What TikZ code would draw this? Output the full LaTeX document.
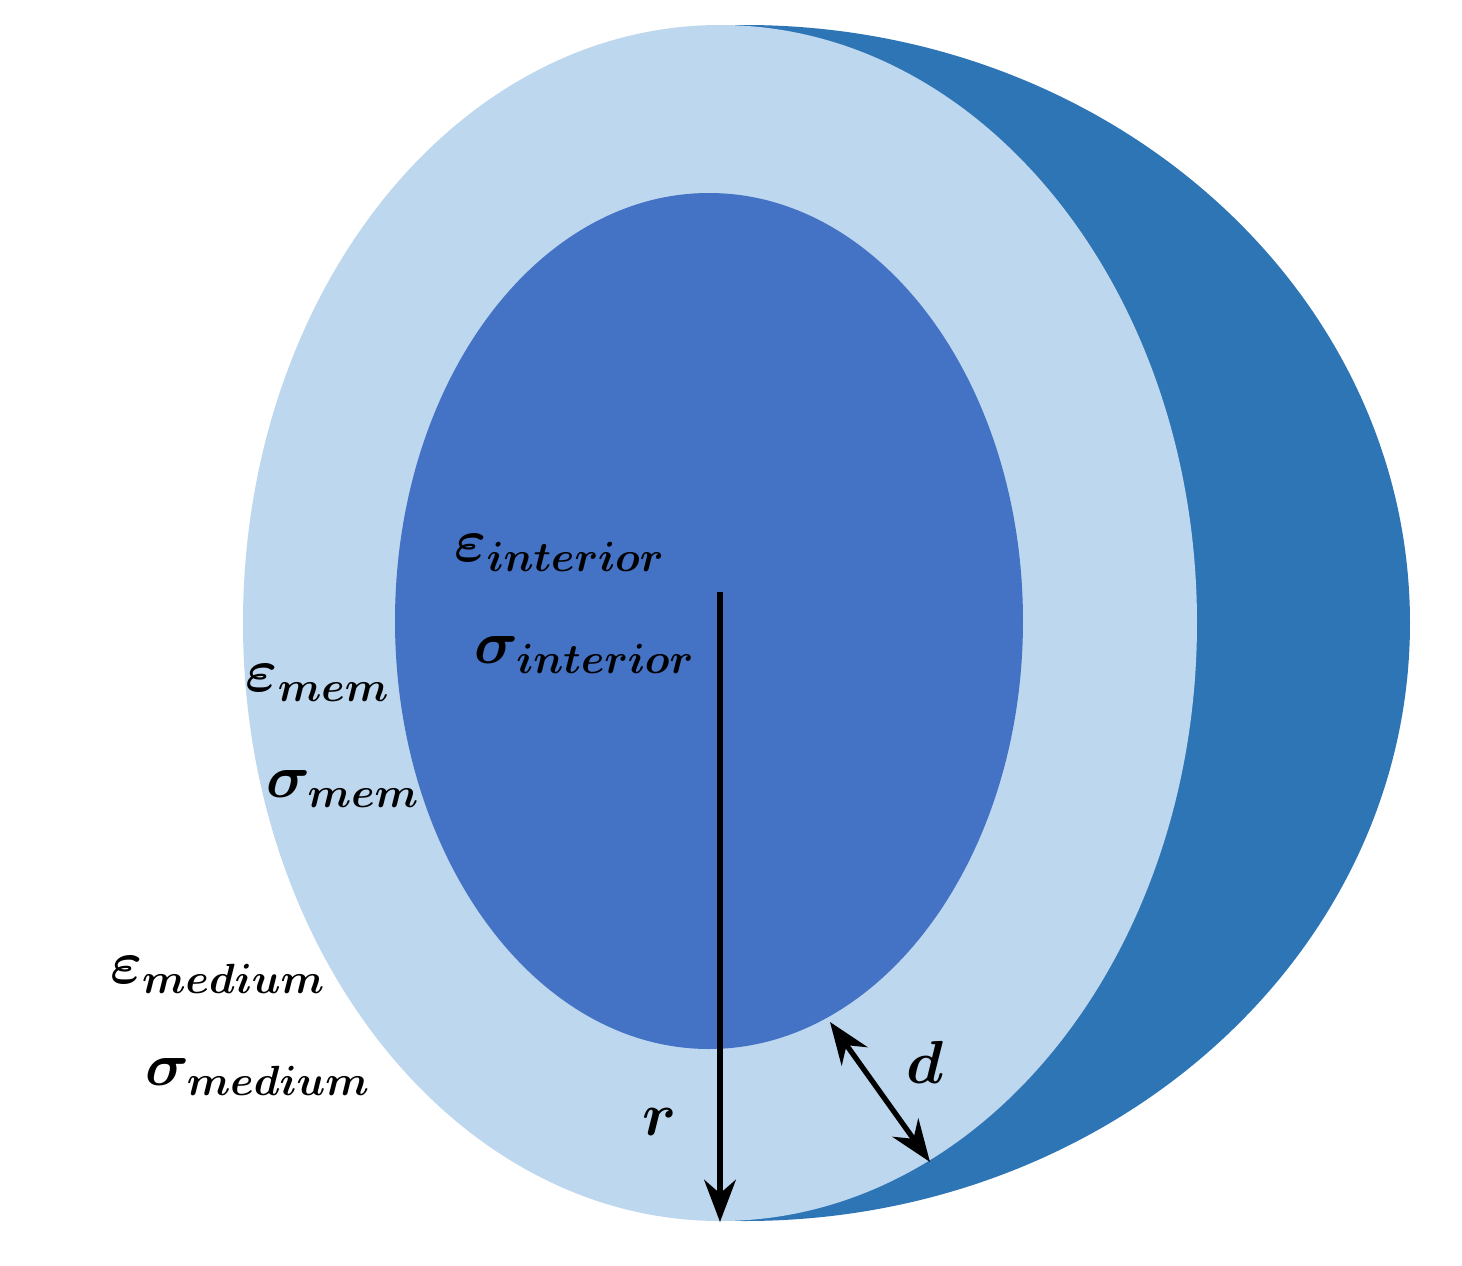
\documentclass[tikz,border=0pt]{standalone}
\usepackage{amsmath,bm}
\usetikzlibrary{arrows.meta}
\definecolor{shell}{HTML}{BDD7EE}
\definecolor{core}{HTML}{4472C4}
\definecolor{back}{HTML}{2E75B6}
\begin{document}
\begin{tikzpicture}[x=0.01cm,y=-0.01cm]
\tikzset{lbl/.style={inner sep=0pt,font=\fontsize{17}{20}\selectfont}}
\useasboundingbox (0,0) rectangle (1462,1266);
% layers of the cell
\begin{scope}
\clip (735,0) rectangle (1462,1266);
\fill [back] (745,623) ellipse [x radius=665,y radius=598];
\end{scope}
\fill [shell] (720,623) ellipse [x radius=477,y radius=598];
\fill [core] (709,621) ellipse [x radius=314,y radius=428];
% labels
\node [lbl] (ei) at (560,553) {$\bm{\varepsilon_{interior}}$};
\node [lbl] (si) at (585,655) {$\bm{\sigma_{interior}}$};
\node [lbl] (em) at (318,683) {$\bm{\varepsilon_{mem}}$};
\node [lbl] (sm) at (343,789) {$\bm{\sigma_{mem}}$};
\node [lbl] (ed) at (218,975) {$\bm{\varepsilon_{medium}}$};
\node [lbl] (sd) at (258,1077) {$\bm{\sigma_{medium}}$};
\node [lbl] (r) at (660,1122) {$\bm{r}$};
\node [lbl] (d) at (925,1062) {$\bm{d}$};
% arrows
\coordinate (c) at (720,592);
\coordinate (rb) at (720,1222);
\coordinate (d1) at (830,1022);
\coordinate (d2) at (930,1162);
\draw [line width=1.5pt,-{Stealth[length=12pt]}] (c) -- (rb);
\draw [line width=1.5pt,{Stealth[length=12pt]}-{Stealth[length=12pt]}] (d1) -- (d2);
\end{tikzpicture}
\end{document}
